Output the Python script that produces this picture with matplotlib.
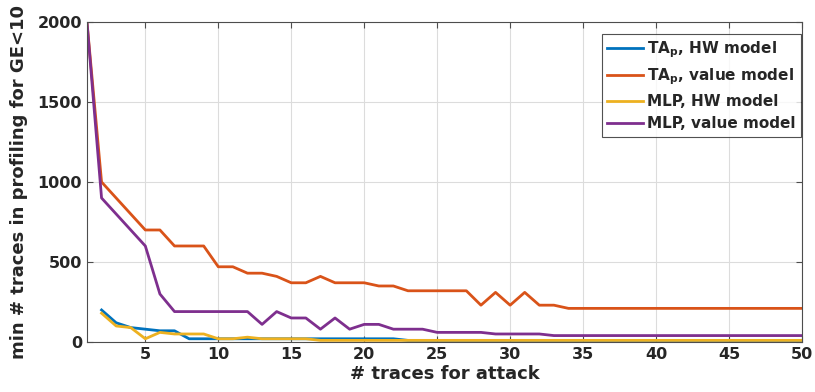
import matplotlib
matplotlib.use('Agg')
import matplotlib.pyplot as plt
import numpy as np

# x: number of traces for attack
n_attack = np.arange(1, 51)

# TA_p, HW model (starts at 2 traces)
ta_hw_x = np.arange(2, 51)
ta_hw = [200, 120, 90, 80, 70, 70, 20, 20, 20, 20, 20, 20, 20, 20, 20,
         20, 20, 20, 20, 20, 20, 10, 10, 10, 10, 10, 10, 10, 10, 10,
         10, 10, 10, 10, 10, 10, 10, 10, 10, 10, 10, 10, 10, 10, 10,
         10, 10, 10, 10]

# TA_p, value model
ta_val = [2000, 1000, 900, 800, 700, 700, 600, 600, 600, 470,
          470, 430, 430, 410, 370, 370, 410, 370, 370, 370,
          350, 350, 320, 320, 320, 320, 320, 230, 310, 230,
          310, 230, 230, 210, 210, 210, 210, 210, 210, 210,
          210, 210, 210, 210, 210, 210, 210, 210, 210, 210]

# MLP, HW model (starts at 2 traces)
mlp_hw_x = np.arange(2, 51)
mlp_hw = [180, 100, 90, 20, 60, 50, 50, 50, 20, 20, 30, 20, 20, 20, 20,
          10, 10, 10, 10, 10, 10, 10, 10, 10, 10, 10, 10, 10, 10, 10,
          10, 10, 10, 10, 10, 10, 10, 10, 10, 10, 10, 10, 10, 10, 10,
          10, 10, 10, 10]

# MLP, value model
mlp_val = [2000, 900, 800, 700, 600, 300, 190, 190, 190, 190,
           190, 190, 110, 190, 150, 150, 80, 150, 80, 110,
           110, 80, 80, 80, 60, 60, 60, 60, 50, 50,
           50, 50, 40, 40, 40, 40, 40, 40, 40, 40,
           40, 40, 40, 40, 40, 40, 40, 40, 40, 40]

labels = [r'TA$_\mathbf{p}$, HW model', r'TA$_\mathbf{p}$, value model',
          'MLP, HW model', 'MLP, value model']
colors = ['#0072BD', '#D95319', '#EDB120', '#7E2F8E']

plt.rcParams['font.family'] = ['DejaVu Sans']
plt.rcParams['font.weight'] = 'bold'
plt.rcParams['mathtext.default'] = 'bf'

fig = plt.figure(figsize=(8.15, 3.92), dpi=100)
ax = fig.add_axes([0.1067, 0.1276, 0.8773, 0.8163])

ax.plot(ta_hw_x, ta_hw, color=colors[0], lw=2, label=labels[0])
ax.plot(n_attack, ta_val, color=colors[1], lw=2, label=labels[1])
ax.plot(mlp_hw_x, mlp_hw, color=colors[2], lw=2, label=labels[2])
ax.plot(n_attack, mlp_val, color=colors[3], lw=2, label=labels[3])

ax.set_xlim(1, 50)
ax.set_ylim(0, 2000)
ax.set_xticks(np.arange(5, 51, 5))
ax.set_yticks(np.arange(0, 2001, 500))
ax.grid(True, color='#dcdcdc', lw=0.8)
ax.set_axisbelow(True)
ax.tick_params(direction='in', top=True, right=True, length=4,
               colors='#4d4d4d', labelcolor='#262626', labelsize=11.5)
for s in ax.spines.values():
    s.set_color('#4d4d4d')
    s.set_linewidth(0.8)

ax.set_xlabel('# traces for attack', fontsize=13, fontweight='bold',
              color='#262626', labelpad=2)
ax.set_ylabel('min # traces in profiling for GE<10', fontsize=13,
              fontweight='bold', color='#262626', labelpad=7)

leg = ax.legend(loc='upper right', fontsize=11, frameon=True, fancybox=False,
                edgecolor='#262626', handlelength=2.3, handletextpad=0.3,
                borderpad=0.35, labelspacing=0.45, borderaxespad=0,
                bbox_to_anchor=(0.9986, 0.9625))
leg.get_frame().set_linewidth(0.8)
for t in leg.get_texts():
    t.set_color('#262626')

fig.savefig('out.png', dpi=100)
